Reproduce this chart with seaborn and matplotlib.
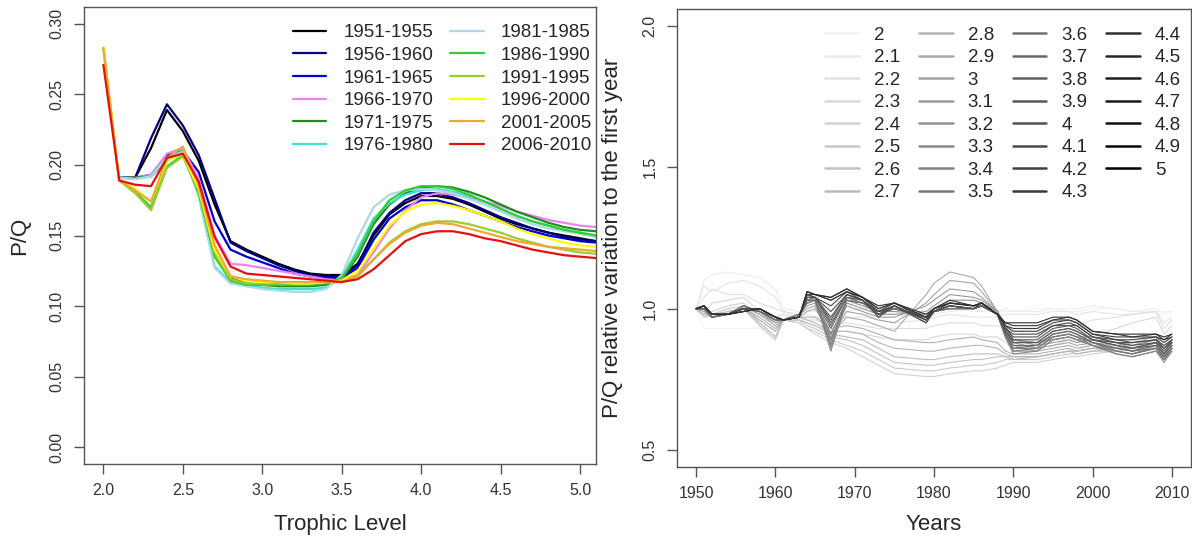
"""P/Q by trophic level per period, and relative P/Q variation per trophic level."""

import matplotlib

matplotlib.use("Agg")
import matplotlib.pyplot as plt
import numpy as np
import pandas as pd
import seaborn as sns
from matplotlib.lines import Line2D

nan = np.nan

# ---- left panel: P/Q along the trophic spectrum, one curve per period ----
TROPHIC_LEVELS = [2.0, 2.1, 2.2, 2.3, 2.4, 2.5, 2.6, 2.7, 2.8, 2.9, 3.0, 3.1, 3.2, 3.3, 3.4, 3.5,
                  3.6, 3.7, 3.8, 3.9, 4.0, 4.1, 4.2, 4.3, 4.4, 4.5, 4.6, 4.7, 4.8, 4.9, 5.0, 5.1]

PERIODS = ["1951-1955", "1956-1960", "1961-1965", "1966-1970", "1971-1975", "1976-1980",
           "1981-1985", "1986-1990", "1991-1995", "1996-2000", "2001-2005", "2006-2010"]
PERIOD_COLORS = ["#000000", "#000080", "#0000cd", "#ee82ee", "#228b22", "#40e0d0",
                 "#add8e6", "#32cd32", "#9acd32", "#ffff00", "#f0a830", "#e31010"]

PQ_1951_1955 = [nan, 0.191, 0.191, 0.212, 0.239, 0.224, 0.203, 0.172, 0.146, 0.140, 0.135, 0.130,
                0.126, 0.123, 0.122, 0.122, 0.130, 0.150, 0.165, 0.173, 0.178, 0.178, 0.176, 0.172,
                0.167, 0.162, 0.158, 0.155, 0.152, 0.150, 0.148, 0.146]
PQ_1956_1960 = [nan, 0.191, 0.191, 0.219, 0.243, 0.228, 0.207, 0.176, 0.145, 0.139, 0.134, 0.129,
                0.125, 0.122, 0.121, 0.121, 0.129, 0.152, 0.166, 0.175, 0.180, 0.180, 0.177, 0.173,
                0.168, 0.163, 0.159, 0.155, 0.152, 0.149, 0.147, 0.146]
PQ_1961_1965 = [nan, 0.191, 0.191, 0.193, 0.207, 0.210, 0.195, 0.160, 0.140, 0.135, 0.131, 0.127,
                0.123, 0.121, 0.120, 0.120, 0.127, 0.147, 0.162, 0.170, 0.175, 0.175, 0.172, 0.168,
                0.164, 0.160, 0.156, 0.153, 0.150, 0.148, 0.146, 0.145]
PQ_1966_1970 = [nan, 0.191, 0.191, 0.193, 0.208, 0.212, 0.190, 0.150, 0.130, 0.129, 0.127, 0.125,
                0.123, 0.121, 0.119, 0.118, 0.122, 0.138, 0.155, 0.168, 0.177, 0.180, 0.179, 0.177,
                0.174, 0.171, 0.167, 0.164, 0.161, 0.159, 0.157, 0.156]
PQ_1971_1975 = [nan, 0.191, 0.191, 0.192, 0.203, 0.210, 0.185, 0.140, 0.120, 0.116, 0.115, 0.114,
                0.114, 0.114, 0.115, 0.119, 0.135, 0.158, 0.172, 0.180, 0.184, 0.185, 0.184, 0.181,
                0.177, 0.172, 0.167, 0.163, 0.159, 0.156, 0.154, 0.153]
PQ_1976_1980 = [nan, 0.191, 0.190, 0.192, 0.205, 0.210, 0.178, 0.128, 0.117, 0.115, 0.113, 0.112,
                0.112, 0.112, 0.113, 0.120, 0.140, 0.162, 0.173, 0.179, 0.182, 0.183, 0.181, 0.178,
                0.174, 0.169, 0.164, 0.160, 0.157, 0.154, 0.152, 0.150]
PQ_1981_1985 = [nan, 0.191, 0.190, 0.192, 0.205, 0.209, 0.178, 0.127, 0.116, 0.114, 0.112, 0.111,
                0.110, 0.110, 0.112, 0.122, 0.148, 0.170, 0.179, 0.182, 0.183, 0.182, 0.180, 0.176,
                0.172, 0.167, 0.162, 0.158, 0.155, 0.153, 0.151, 0.149]
PQ_1986_1990 = [0.283, 0.189, 0.181, 0.170, 0.199, 0.207, 0.180, 0.135, 0.118, 0.115, 0.115, 0.115,
                0.115, 0.115, 0.116, 0.120, 0.137, 0.160, 0.175, 0.182, 0.185, 0.185, 0.183, 0.179,
                0.174, 0.169, 0.164, 0.160, 0.157, 0.154, 0.152, 0.150]
PQ_1991_1995 = [0.283, 0.189, 0.180, 0.168, 0.198, 0.206, 0.182, 0.138, 0.119, 0.116, 0.116, 0.116,
                0.116, 0.116, 0.117, 0.117, 0.121, 0.133, 0.145, 0.153, 0.158, 0.160, 0.160, 0.158,
                0.155, 0.152, 0.148, 0.145, 0.142, 0.140, 0.138, 0.137]
PQ_1996_2000 = [0.283, 0.189, 0.183, 0.174, 0.203, 0.208, 0.183, 0.140, 0.121, 0.118, 0.117, 0.117,
                0.116, 0.116, 0.117, 0.118, 0.125, 0.141, 0.157, 0.167, 0.172, 0.173, 0.171, 0.168,
                0.164, 0.160, 0.155, 0.151, 0.148, 0.145, 0.143, 0.142]
PQ_2001_2005 = [0.283, 0.189, 0.182, 0.174, 0.205, 0.213, 0.185, 0.143, 0.121, 0.119, 0.118, 0.117,
                0.117, 0.117, 0.117, 0.117, 0.122, 0.133, 0.144, 0.152, 0.157, 0.159, 0.158, 0.155,
                0.152, 0.149, 0.146, 0.144, 0.142, 0.141, 0.140, 0.139]
PQ_2006_2010 = [0.271, 0.189, 0.186, 0.185, 0.205, 0.208, 0.188, 0.149, 0.128, 0.123, 0.122, 0.121,
                0.120, 0.119, 0.118, 0.117, 0.119, 0.126, 0.136, 0.146, 0.151, 0.153, 0.153, 0.151,
                0.148, 0.146, 0.143, 0.140, 0.138, 0.136, 0.135, 0.134]

# ---- right panel: P/Q relative to 1950, one curve per trophic level ----
YEARS = [1950, 1951, 1952, 1954, 1956, 1958, 1960, 1961, 1963, 1964, 1965, 1967, 1969, 1971,
         1973, 1975, 1979, 1980, 1982, 1985, 1986, 1988, 1989, 1990, 1993, 1995, 1997, 1998,
         2000, 2003, 2005, 2008, 2009, 2010]

TL_LABELS = ["2", "2.1", "2.2", "2.3", "2.4", "2.5", "2.6", "2.7",
             "2.8", "2.9", "3", "3.1", "3.2", "3.3", "3.4", "3.5",
             "3.6", "3.7", "3.8", "3.9", "4", "4.1", "4.2", "4.3",
             "4.4", "4.5", "4.6", "4.7", "4.8", "4.9", "5"]

# TL 2 .. 2.7
REL_TL_20_27 = [
    [1.00, 0.93, 0.93, 0.93, 0.93, 0.93, 0.93, 0.96, 0.99, 0.99, 0.99, 0.99, 1.00, 1.00, 0.99, 0.99, 0.99,
     1.00, 1.00, 0.99, 0.99, 0.99, 0.99, 0.99, 1.00, 1.00, 0.99, 0.99, 1.00, 1.00, 0.99, 0.99, 0.99, 0.99],
    [1.00, 1.10, 1.12, 1.13, 1.12, 1.11, 1.07, 1.00, 0.99, 0.99, 0.99, 0.98, 0.99, 1.00, 0.99, 0.98, 0.97,
     0.98, 0.99, 1.00, 0.99, 0.99, 1.00, 0.99, 0.99, 1.00, 1.00, 1.00, 1.01, 1.00, 0.99, 1.00, 0.98, 0.99],
    [1.00, 1.08, 1.06, 1.09, 1.10, 1.08, 1.04, 0.99, 0.98, 0.98, 0.97, 0.96, 0.97, 0.97, 0.96, 0.95, 0.96,
     0.97, 0.98, 0.97, 0.97, 0.97, 0.98, 0.98, 0.98, 0.99, 0.99, 0.98, 0.99, 0.98, 0.98, 0.99, 0.95, 0.97],
    [1.00, 1.04, 1.07, 1.05, 1.05, 1.02, 1.00, 0.99, 0.97, 0.96, 0.96, 0.94, 0.95, 0.94, 0.93, 0.93, 0.93,
     0.94, 0.95, 0.95, 0.94, 0.94, 0.93, 0.92, 0.93, 0.94, 0.95, 0.94, 0.96, 0.97, 0.98, 0.99, 0.93, 0.96],
    [1.00, 0.98, 1.02, 1.03, 1.04, 0.99, 0.97, 0.98, 0.96, 0.95, 0.94, 0.92, 0.92, 0.91, 0.90, 0.89, 0.89,
     0.90, 0.91, 0.91, 0.90, 0.90, 0.88, 0.86, 0.86, 0.87, 0.89, 0.88, 0.91, 0.93, 0.95, 0.97, 0.91, 0.94],
    [1.00, 0.97, 0.99, 1.01, 1.02, 0.96, 0.92, 0.96, 0.95, 0.93, 0.91, 0.88, 0.86, 0.83, 0.80, 0.77, 0.76,
     0.76, 0.77, 0.78, 0.78, 0.79, 0.80, 0.81, 0.81, 0.82, 0.83, 0.83, 0.84, 0.85, 0.86, 0.88, 0.84, 0.87],
    [1.00, 0.97, 0.98, 1.00, 1.01, 0.95, 0.90, 0.96, 0.95, 0.93, 0.92, 0.89, 0.87, 0.85, 0.82, 0.79, 0.78,
     0.78, 0.79, 0.80, 0.80, 0.81, 0.82, 0.82, 0.82, 0.83, 0.84, 0.84, 0.85, 0.86, 0.87, 0.89, 0.85, 0.88],
    [1.00, 0.98, 0.98, 0.99, 1.00, 0.94, 0.89, 0.96, 0.96, 0.94, 0.93, 0.90, 0.89, 0.87, 0.84, 0.81, 0.80,
     0.80, 0.81, 0.82, 0.82, 0.83, 0.83, 0.83, 0.83, 0.84, 0.85, 0.85, 0.86, 0.87, 0.88, 0.90, 0.86, 0.89],
]
# TL 2.8 .. 3.5
REL_TL_28_35 = [
    [1.00, 0.98, 0.97, 0.99, 1.00, 0.95, 0.90, 0.96, 0.96, 0.95, 0.94, 0.91, 0.90, 0.89, 0.86, 0.83, 0.82,
     0.82, 0.83, 0.84, 0.84, 0.84, 0.83, 0.82, 0.83, 0.84, 0.85, 0.85, 0.86, 0.86, 0.86, 0.88, 0.84, 0.87],
    [1.00, 0.99, 0.97, 0.98, 1.00, 0.96, 0.92, 0.96, 0.97, 0.96, 0.95, 0.92, 0.92, 0.91, 0.88, 0.86, 0.85,
     0.85, 0.86, 0.87, 0.87, 0.86, 0.84, 0.83, 0.83, 0.84, 0.85, 0.84, 0.85, 0.85, 0.84, 0.87, 0.83, 0.86],
    [1.00, 0.99, 0.97, 0.98, 1.00, 0.97, 0.93, 0.96, 0.97, 0.97, 0.97, 0.93, 0.94, 0.93, 0.91, 0.89, 0.88,
     0.88, 0.89, 0.90, 0.89, 0.88, 0.85, 0.84, 0.84, 0.85, 0.86, 0.85, 0.86, 0.85, 0.84, 0.86, 0.82, 0.86],
    [1.00, 1.00, 0.97, 0.98, 1.01, 0.98, 0.94, 0.96, 0.97, 0.99, 1.00, 0.91, 0.97, 0.96, 0.94, 0.92, 1.05,
     1.09, 1.13, 1.11, 1.08, 0.99, 0.92, 0.87, 0.85, 0.86, 0.87, 0.86, 0.87, 0.86, 0.85, 0.87, 0.82, 0.87],
    [1.00, 1.00, 0.98, 0.98, 1.01, 0.98, 0.95, 0.96, 0.98, 1.00, 1.01, 0.90, 0.99, 0.98, 0.96, 0.95, 1.02,
     1.05, 1.10, 1.09, 1.06, 0.99, 0.93, 0.88, 0.86, 0.87, 0.88, 0.87, 0.88, 0.87, 0.85, 0.88, 0.83, 0.88],
    [1.00, 1.00, 0.98, 0.98, 1.01, 0.99, 0.95, 0.96, 0.98, 1.01, 1.02, 0.89, 1.01, 0.99, 0.97, 0.97, 1.01,
     1.03, 1.07, 1.06, 1.04, 0.99, 0.93, 0.89, 0.87, 0.88, 0.89, 0.88, 0.89, 0.87, 0.86, 0.88, 0.83, 0.88],
    [1.00, 1.01, 0.98, 0.98, 1.01, 0.99, 0.96, 0.96, 0.98, 1.02, 1.03, 0.88, 1.02, 1.00, 0.98, 0.98, 0.99,
     1.01, 1.05, 1.04, 1.03, 0.99, 0.94, 0.89, 0.88, 0.89, 0.90, 0.89, 0.89, 0.88, 0.86, 0.88, 0.84, 0.89],
    [1.00, 1.01, 0.98, 0.98, 1.00, 0.99, 0.96, 0.96, 0.98, 1.03, 1.04, 0.86, 1.03, 1.01, 0.99, 0.99, 0.98,
     1.00, 1.03, 1.03, 1.02, 0.99, 0.94, 0.89, 0.88, 0.90, 0.91, 0.90, 0.90, 0.88, 0.87, 0.89, 0.84, 0.89],
]
# TL 3.6 .. 4.3
REL_TL_36_43 = [
    [1.00, 1.00, 0.97, 0.98, 1.01, 0.99, 0.96, 0.96, 0.98, 1.02, 1.03, 0.85, 1.03, 1.02, 0.99, 1.00, 0.97,
     0.99, 1.01, 1.00, 1.01, 0.98, 0.90, 0.84, 0.85, 0.89, 0.90, 0.89, 0.87, 0.84, 0.83, 0.85, 0.81, 0.85],
    [1.00, 1.00, 0.97, 0.98, 1.01, 0.99, 0.96, 0.96, 0.98, 1.02, 1.03, 0.87, 1.03, 1.02, 0.99, 1.00, 0.97,
     0.99, 1.01, 1.00, 1.01, 0.98, 0.90, 0.85, 0.85, 0.89, 0.90, 0.89, 0.87, 0.84, 0.83, 0.85, 0.82, 0.85],
    [1.00, 1.00, 0.97, 0.98, 1.01, 0.99, 0.96, 0.96, 0.98, 1.02, 1.03, 0.89, 1.03, 1.02, 0.99, 1.00, 0.97,
     0.99, 1.00, 1.00, 1.01, 0.98, 0.90, 0.85, 0.86, 0.90, 0.91, 0.90, 0.87, 0.85, 0.84, 0.86, 0.82, 0.86],
    [1.00, 1.00, 0.97, 0.98, 1.01, 0.99, 0.96, 0.96, 0.98, 1.03, 1.03, 0.91, 1.03, 1.02, 0.99, 1.00, 0.97,
     0.99, 1.00, 1.00, 1.01, 0.98, 0.91, 0.86, 0.86, 0.90, 0.91, 0.90, 0.88, 0.85, 0.84, 0.86, 0.83, 0.86],
    [1.00, 1.00, 0.97, 0.98, 1.00, 0.99, 0.96, 0.96, 0.97, 1.03, 1.03, 0.93, 1.04, 1.02, 0.98, 1.00, 0.97,
     0.99, 1.00, 1.00, 1.01, 0.98, 0.91, 0.86, 0.87, 0.91, 0.92, 0.91, 0.88, 0.86, 0.85, 0.86, 0.83, 0.86],
    [1.00, 1.00, 0.97, 0.98, 1.00, 0.99, 0.97, 0.96, 0.97, 1.03, 1.04, 0.94, 1.04, 1.03, 0.98, 1.00, 0.97,
     0.99, 1.01, 1.00, 1.01, 0.98, 0.91, 0.87, 0.87, 0.91, 0.92, 0.91, 0.88, 0.86, 0.85, 0.87, 0.84, 0.87],
    [1.00, 1.00, 0.98, 0.98, 1.00, 1.00, 0.97, 0.96, 0.97, 1.04, 1.04, 0.95, 1.04, 1.03, 0.97, 1.01, 0.96,
     0.99, 1.01, 1.00, 1.01, 0.98, 0.92, 0.88, 0.88, 0.92, 0.93, 0.92, 0.89, 0.87, 0.86, 0.87, 0.84, 0.87],
    [1.00, 1.01, 0.98, 0.98, 1.00, 1.00, 0.97, 0.96, 0.97, 1.04, 1.04, 0.96, 1.05, 1.03, 0.97, 1.01, 0.96,
     0.99, 1.01, 1.00, 1.01, 0.98, 0.92, 0.88, 0.88, 0.92, 0.93, 0.92, 0.89, 0.87, 0.86, 0.88, 0.85, 0.88],
]
# TL 4.4 .. 5
REL_TL_44_50 = [
    [1.00, 1.01, 0.98, 0.98, 1.00, 1.00, 0.97, 0.96, 0.97, 1.04, 1.04, 0.97, 1.05, 1.03, 0.98, 1.01, 0.95,
     0.99, 1.01, 1.00, 1.02, 0.98, 0.92, 0.89, 0.89, 0.93, 0.94, 0.93, 0.89, 0.88, 0.87, 0.88, 0.86, 0.88],
    [1.00, 1.01, 0.98, 0.98, 1.00, 1.00, 0.97, 0.96, 0.97, 1.05, 1.04, 0.99, 1.05, 1.03, 0.98, 1.01, 0.95,
     0.99, 1.01, 1.00, 1.02, 0.98, 0.93, 0.90, 0.90, 0.94, 0.94, 0.94, 0.90, 0.88, 0.88, 0.89, 0.86, 0.89],
    [1.00, 1.01, 0.98, 0.98, 1.00, 1.00, 0.97, 0.96, 0.97, 1.05, 1.04, 1.01, 1.06, 1.03, 0.99, 1.01, 0.96,
     0.99, 1.02, 1.01, 1.02, 0.98, 0.93, 0.91, 0.91, 0.94, 0.95, 0.94, 0.90, 0.89, 0.88, 0.89, 0.87, 0.89],
    [1.00, 1.01, 0.98, 0.98, 0.99, 1.00, 0.97, 0.96, 0.97, 1.05, 1.05, 1.03, 1.06, 1.04, 0.99, 1.02, 0.96,
     1.00, 1.02, 1.01, 1.02, 0.98, 0.94, 0.92, 0.92, 0.95, 0.96, 0.95, 0.91, 0.89, 0.89, 0.90, 0.88, 0.90],
    [1.00, 1.01, 0.98, 0.98, 0.99, 1.00, 0.97, 0.96, 0.97, 1.06, 1.05, 1.03, 1.06, 1.04, 1.00, 1.02, 0.97,
     1.00, 1.02, 1.01, 1.02, 0.98, 0.94, 0.93, 0.93, 0.96, 0.96, 0.95, 0.91, 0.90, 0.90, 0.90, 0.89, 0.90],
    [1.00, 1.01, 0.98, 0.98, 0.99, 1.00, 0.97, 0.96, 0.97, 1.06, 1.05, 1.04, 1.07, 1.04, 1.00, 1.02, 0.97,
     1.00, 1.03, 1.01, 1.02, 0.98, 0.95, 0.94, 0.94, 0.96, 0.97, 0.96, 0.92, 0.91, 0.90, 0.91, 0.89, 0.91],
    [1.00, 1.01, 0.98, 0.98, 0.99, 1.00, 0.97, 0.96, 0.97, 1.06, 1.05, 1.04, 1.07, 1.04, 1.01, 1.02, 0.98,
     1.00, 1.02, 1.01, 1.02, 0.98, 0.95, 0.95, 0.95, 0.97, 0.97, 0.96, 0.92, 0.91, 0.91, 0.91, 0.90, 0.91],
]

FONT = ["Liberation Sans", "DejaVu Sans"]
FRAME = "#555555"
TICK_TEXT = "#333333"


def style_axes(ax):
    for side in ax.spines.values():
        side.set_color(FRAME)
        side.set_linewidth(1.0)
    ax.tick_params(axis="both", direction="out", length=7, width=1.0, color=FRAME,
                   labelsize=11.5, labelcolor=TICK_TEXT, pad=7)
    for lab in ax.get_yticklabels():
        lab.set_rotation(90)
        lab.set_va("center")


def build_left(ax):
    series = [PQ_1951_1955, PQ_1956_1960, PQ_1961_1965, PQ_1966_1970, PQ_1971_1975, PQ_1976_1980,
              PQ_1981_1985, PQ_1986_1990, PQ_1991_1995, PQ_1996_2000, PQ_2001_2005, PQ_2006_2010]
    frames = []
    for period, values in zip(PERIODS, series):
        frames.append(pd.DataFrame({"tl": TROPHIC_LEVELS, "pq": values, "period": period}))
    df = pd.concat(frames, ignore_index=True).dropna()

    sns.lineplot(data=df, x="tl", y="pq", hue="period", hue_order=PERIODS,
                 palette=dict(zip(PERIODS, PERIOD_COLORS)), estimator=None, sort=False,
                 linewidth=1.6, legend=False, ax=ax)

    ax.set_xlim(1.878, 5.10)
    ax.set_ylim(-0.012, 0.312)
    ax.set_xticks([2.0, 2.5, 3.0, 3.5, 4.0, 4.5, 5.0])
    ax.set_xticklabels(["2.0", "2.5", "3.0", "3.5", "4.0", "4.5", "5.0"])
    ax.set_yticks([0.0, 0.05, 0.10, 0.15, 0.20, 0.25, 0.30])
    ax.set_yticklabels(["0.00", "0.05", "0.10", "0.15", "0.20", "0.25", "0.30"])
    ax.set_xlabel("Trophic Level", fontsize=16, labelpad=11)
    ax.set_ylabel("P/Q", fontsize=16, labelpad=14)
    style_axes(ax)

    handles = [Line2D([], [], color=c, lw=1.6) for c in PERIOD_COLORS]
    ax.legend(handles, PERIODS, ncol=2, loc="upper right", bbox_to_anchor=(0.99, 0.962),
              frameon=False, fontsize=13.5, handlelength=1.8, handletextpad=0.9,
              columnspacing=0.9, labelspacing=0.29, borderpad=0, borderaxespad=0)


def build_right(ax):
    rows = REL_TL_20_27 + REL_TL_28_35 + REL_TL_36_43 + REL_TL_44_50
    frames = []
    for label, values in zip(TL_LABELS, rows):
        frames.append(pd.DataFrame({"year": YEARS, "rel": values, "tl": label}))
    df = pd.concat(frames, ignore_index=True)

    n = len(TL_LABELS)
    grays = [str(round(0.95 * (1 - i / (n - 1)), 3)) for i in range(n)]
    # plotted lines a touch softer than the legend keys
    line_grays = [str(round(0.95 - 0.77 * i / (n - 1), 3)) for i in range(n)]
    sns.lineplot(data=df, x="year", y="rel", hue="tl", hue_order=TL_LABELS,
                 palette=dict(zip(TL_LABELS, line_grays)), estimator=None, sort=False,
                 linewidth=0.8, legend=False, ax=ax)

    ax.set_xlim(1947.6, 2012.4)
    ax.set_ylim(0.44, 2.06)
    ax.set_xticks([1950, 1960, 1970, 1980, 1990, 2000, 2010])
    ax.set_xticklabels(["1950", "1960", "1970", "1980", "1990", "2000", "2010"])
    ax.set_yticks([0.5, 1.0, 1.5, 2.0])
    ax.set_yticklabels(["0.5", "1.0", "1.5", "2.0"])
    ax.set_xlabel("Years", fontsize=16, labelpad=9)
    ax.set_ylabel("P/Q relative variation to the first year", fontsize=16, labelpad=14)
    style_axes(ax)

    handles = [Line2D([], [], color=g, lw=1.8) for g in grays]
    ax.legend(handles, TL_LABELS, ncol=4, loc="upper right", bbox_to_anchor=(0.981, 0.962),
              frameon=False, fontsize=13.5, handlelength=1.8, handletextpad=0.8,
              columnspacing=1.0, labelspacing=0.29, borderpad=0, borderaxespad=0)


def main():
    sns.set_theme(style="ticks")
    plt.rcParams["font.family"] = FONT
    plt.rcParams["axes.edgecolor"] = FRAME

    fig = plt.figure(figsize=(11.92, 5.40), dpi=100)
    ax_left = fig.add_axes([84 / 1192, 76 / 540, 512 / 1192, 457 / 540])
    ax_right = fig.add_axes([677 / 1192, 73 / 540, 514 / 1192, 458 / 540])

    build_left(ax_left)
    build_right(ax_right)

    fig.savefig("out.png", dpi=100, facecolor="white")
    plt.close(fig)


if __name__ == "__main__":
    main()
